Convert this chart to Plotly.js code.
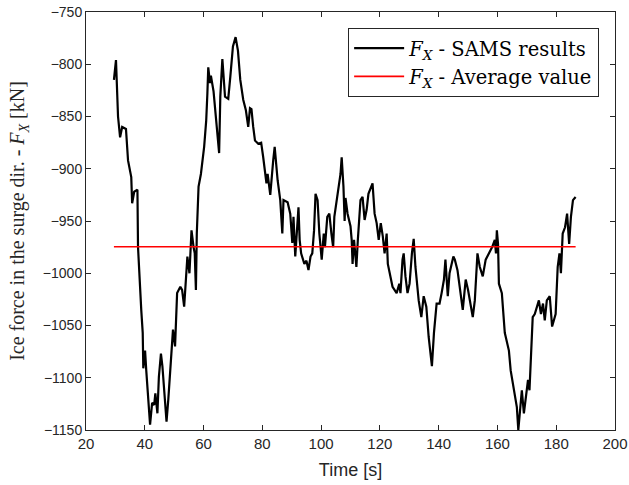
<!DOCTYPE html>
<html><head><meta charset="utf-8">
<script src="https://cdn.plot.ly/plotly-3.0.1.min.js"></script>
<style>html,body{margin:0;padding:0;background:#fff}#c{width:629px;height:485px}</style>
</head><body><div id="c"></div>
<script>
const timeS = [29.5,30.2,30.9,31.6,32.3,33.6,34.3,35.0,35.4,35.7,36.4,37.5,37.7,38.8,39.3,39.5,40.1,40.5,41.1,41.8,42.5,43.2,43.6,44.3,44.8,45.5,46.0,46.6,47.4,48.0,48.6,49.3,49.6,50.3,51.0,52.1,52.7,53.4,53.8,54.5,55.2,55.9,56.6,57.0,57.4,57.7,58.3,59.1,60.2,60.9,61.3,61.6,62.2,62.5,63.4,64.3,64.7,65.3,65.7,66.4,67.3,68.4,69.1,70.0,70.9,71.7,72.5,73.5,74.4,75.2,75.8,76.3,76.9,77.5,78.6,79.6,80.3,81.4,81.8,82.7,83.7,84.2,85.2,86.1,86.8,87.2,88.6,89.5,90.2,90.6,91.2,91.6,92.3,92.7,93.2,94.3,95.0,95.7,96.4,97.0,97.6,98.1,98.8,99.4,100.2,100.9,101.3,102.1,102.8,103.5,104.1,104.5,105.2,105.9,106.6,107.0,107.6,108.0,108.3,109.0,110.0,110.4,110.7,111.2,112.0,112.5,113.4,114.1,114.8,115.5,116.1,117.5,118.2,118.9,119.6,120.3,121.0,121.6,122.3,122.7,124.3,125.7,126.6,127.0,127.7,128.1,128.7,129.4,130.1,130.9,131.5,132.1,133.2,134.1,134.9,135.8,136.6,137.7,138.4,139.3,140.3,141.0,141.8,142.3,143.1,143.7,145.0,145.5,146.4,148.2,149.2,150.0,151.6,152.3,153.2,154.0,155.0,156.0,157.1,158.2,159.1,159.5,159.8,160.2,160.5,161.5,162.5,163.9,164.5,165.9,166.6,167.1,167.7,168.3,169.0,169.6,170.4,170.9,171.6,172.0,172.7,174.1,174.8,175.5,176.1,176.8,177.8,178.6,179.8,180.5,181.1,181.6,182.2,183.0,183.7,184.4,185.0,185.7,186.6];
const fxSams = [-815,-796,-850,-870,-860,-862,-892,-905,-908,-933,-922,-920,-975,-1035,-1057,-1091,-1074,-1093,-1121,-1145,-1124,-1126,-1115,-1134,-1099,-1077,-1089,-1112,-1142,-1121,-1099,-1074,-1054,-1070,-1019,-1013,-1016,-1032,-1010,-984,-1000,-959,-975,-981,-1016,-962,-917,-905,-879,-854,-828,-803,-818,-811,-826,-854,-863,-885,-831,-795,-831,-833,-812,-783,-774,-787,-815,-834,-844,-860,-842,-843,-860,-873,-876,-875,-889,-914,-905,-925,-892,-879,-911,-930,-962,-930,-932,-943,-971,-946,-984,-962,-937,-968,-981,-991,-988,-997,-984,-981,-959,-924,-930,-962,-987,-962,-975,-946,-943,-962,-975,-946,-933,-920,-905,-889,-917,-950,-928,-943,-955,-968,-991,-968,-994,-968,-930,-927,-949,-939,-924,-914,-943,-952,-968,-952,-965,-981,-962,-991,-1013,-1019,-1010,-1019,-987,-981,-1003,-1019,-1010,-981,-967,-994,-1026,-1042,-1022,-1032,-1061,-1089,-1057,-1029,-1029,-1019,-1006,-987,-1022,-1000,-984,-987,-997,-1035,-1006,-1016,-1042,-1026,-981,-994,-1003,-987,-981,-975,-968,-981,-959,-972,-1010,-1019,-1057,-1074,-1093,-1115,-1128,-1150,-1128,-1112,-1134,-1121,-1102,-1112,-1067,-1042,-1039,-1026,-1039,-1029,-1045,-1026,-1022,-1051,-1039,-994,-981,-1000,-962,-956,-943,-972,-946,-930,-927];
const fxAverage = [-974.7,-974.7];
const avgTime = [29.5,186.6];

const traces = [
  {x: timeS, y: fxSams, type:'scatter', mode:'lines', name:'<i>F</i><sub><i>X</i></sub> - SAMS results',
   line:{color:'#000000', width:2.2}},
  {x: avgTime, y: fxAverage, type:'scatter', mode:'lines', name:'<i>F</i><sub><i>X</i></sub> - Average value',
   line:{color:'#ff0000', width:1.6}}
];
const sans = 'Liberation Sans, Arial, sans-serif';
const serif = 'Liberation Serif, DejaVu Serif, serif';
const axisCommon = {showline:true, linecolor:'#262626', linewidth:1, mirror:'ticks', ticks:'inside',
  ticklen:5, tickcolor:'#262626', showgrid:false, zeroline:false};
const layout = {
  width:629, height:485, margin:{l:86, r:14, t:12, b:55},
  paper_bgcolor:'#ffffff', plot_bgcolor:'#ffffff', showlegend:true,
  xaxis: Object.assign({}, axisCommon, {range:[20,200], tickvals:[20,40,60,80,100,120,140,160,180,200],
    tickfont:{family:sans, size:15, color:'#262626'}, automargin:false,
    title:{text:'Time [s]', font:{family:sans, size:18, color:'#262626'}, standoff:12}}),
  yaxis: Object.assign({}, axisCommon, {range:[-1150,-750], tickvals:[-1150,-1100,-1050,-1000,-950,-900,-850,-800,-750],
    tickfont:{family:sans, size:14, color:'#262626'}, automargin:false,
    title:{text:'Ice force in the surge dir. - <i>F</i><sub><i>X</i></sub> [kN]', font:{family:serif, size:20, color:'#262626'}, standoff:12}}),
  legend:{x:0.97, y:0.962, xanchor:'right', yanchor:'top', bgcolor:'#ffffff', bordercolor:'#262626', borderwidth:1,
    font:{family:'DejaVu Serif, serif', size:19.5, color:'#000'}, itemwidth:50, tracegroupgap:0}
};
Plotly.newPlot('c', traces, layout, {displayModeBar:false, staticPlot:true});
</script></body></html>
